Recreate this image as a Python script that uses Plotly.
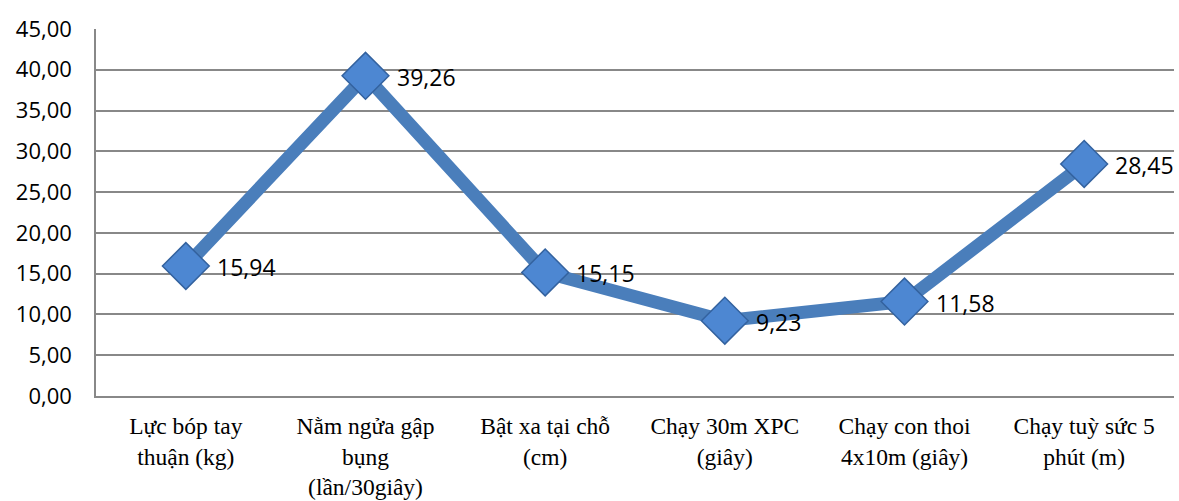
import plotly.graph_objects as go

categories = [
    "Lực bóp tay<br>thuận (kg)",
    "Nằm ngửa gập<br>bụng<br>(lần/30giây)",
    "Bật xa tại chỗ<br>(cm)",
    "Chạy 30m XPC<br>(giây)",
    "Chạy con thoi<br>4x10m (giây)",
    "Chạy tuỳ sức 5<br>phút (m)",
]
values = [15.94, 39.26, 15.15, 9.23, 11.58, 28.45]
y_ticks = [0, 5, 10, 15, 20, 25, 30, 35, 40, 45]

line_color = "#4a7ebb"
grid_color = "#888888"
sans = "Open Sans, Liberation Sans, sans-serif"
serif = "Liberation Serif, Times New Roman, serif"

fig = go.Figure()

fig.add_trace(go.Scatter(
    x=categories,
    y=values,
    mode="lines+markers",
    line=dict(color=line_color, width=13),
    marker=dict(symbol="diamond", size=36, color="#4d87d2",
                line=dict(color="#33629f", width=1.5)),
    hoverinfo="skip",
    showlegend=False,
))

for cat, v in zip(categories, values):
    fig.add_annotation(
        x=cat, y=v, text=f"{v:.2f}".replace(".", ","),
        showarrow=False, xanchor="left", yanchor="middle",
        xshift=29, yshift=-1,
        font=dict(family=sans, size=23, color="#000000"),
    )

fig.update_layout(
    width=1179, height=501,
    margin=dict(l=96, r=5, t=29, b=105),
    paper_bgcolor="white", plot_bgcolor="white",
    separators=",.",
    xaxis=dict(
        type="category",
        automargin=False,
        showgrid=False,
        showline=True, linecolor=grid_color, linewidth=1.5,
        ticks="",
        ticklabelstandoff=8,
        tickfont=dict(family=serif, size=23.5, color="#000000"),
        range=[-0.5, len(categories) - 0.5],
    ),
    yaxis=dict(
        range=[0, 45],
        automargin=False,
        tickvals=y_ticks,
        tickformat=".2f",
        showgrid=True, gridcolor=grid_color, gridwidth=1.5,
        showline=True, linecolor=grid_color, linewidth=1.5,
        zeroline=False,
        ticks="",
        ticklabelstandoff=18,
        tickfont=dict(family=sans, size=22, color="#000000"),
    ),
)

fig.write_html("out.html")
